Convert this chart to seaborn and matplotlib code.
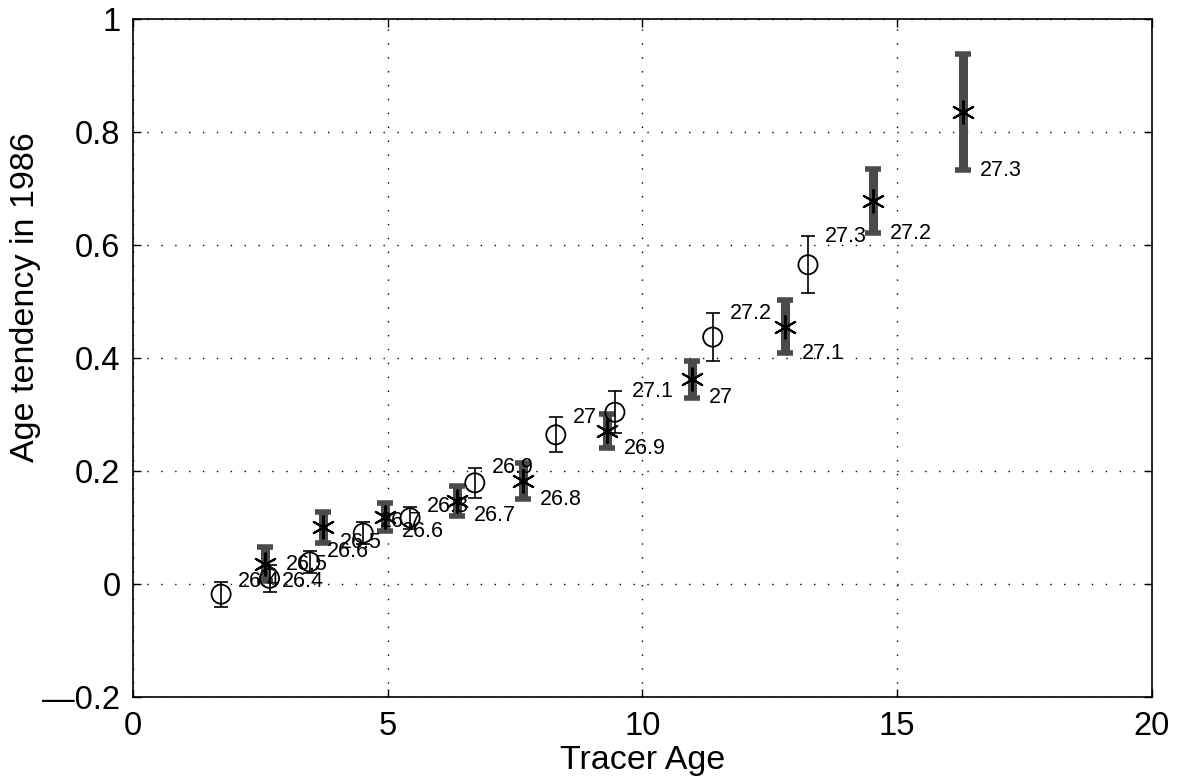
import numpy as np
import matplotlib
matplotlib.use("Agg")
import matplotlib.pyplot as plt
import seaborn as sns

# circles: thin black error bars, labels sit at the top of the bar
circ_age = [1.73, 2.68, 3.47, 4.52, 5.44, 6.71, 8.30, 9.46, 11.38, 13.25]
circ_tend = [-0.018, 0.010, 0.039, 0.090, 0.117, 0.179, 0.264, 0.304, 0.437, 0.565]
circ_err = [0.022, 0.024, 0.019, 0.020, 0.020, 0.027, 0.031, 0.037, 0.042, 0.050]
circ_lab = ["26.4", "26.5", "26.6", "26.7", "26.8", "26.9", "27", "27.1", "27.2", "27.3"]

# asterisks: thick grey error bars, labels sit at the bottom of the bar
star_age = [2.59, 3.73, 4.95, 6.36, 7.65, 9.30, 10.97, 12.80, 14.53, 16.30]
star_tend = [0.035, 0.100, 0.118, 0.147, 0.182, 0.270, 0.362, 0.455, 0.678, 0.835]
star_err = [0.030, 0.027, 0.025, 0.026, 0.032, 0.030, 0.032, 0.047, 0.057, 0.103]
star_lab = ["26.4", "26.5", "26.6", "26.7", "26.8", "26.9", "27", "27.1", "27.2", "27.3"]

xticks = [0, 5, 10, 15, 20]
yticks = [-0.2, 0, 0.2, 0.4, 0.6, 0.8, 1.0]
yticklabels = ["\u20140.2", "0", "0.2", "0.4", "0.6", "0.8", "1"]

sns.set_theme(style="white")
plt.rcParams["font.family"] = ["Liberation Sans", "DejaVu Sans"]
plt.rcParams["text.color"] = "black"

fig = plt.figure(figsize=(11.82, 7.84), dpi=100)
ax = fig.add_axes([0.1125, 0.111, 0.862, 0.8648])

# thick grey bars first, then the thin black ones
ax.errorbar(star_age, star_tend, yerr=star_err, fmt="none", ecolor="#4a4a4a",
            elinewidth=6.5, capsize=5.5, capthick=4, zorder=2)
ax.errorbar(circ_age, circ_tend, yerr=circ_err, fmt="none", ecolor="black",
            elinewidth=1.2, capsize=5, capthick=1.2, zorder=3)

sns.scatterplot(x=star_age, y=star_tend, marker=(6, 2, 0), s=260, color="black",
                linewidth=1.5, ax=ax, zorder=4)
sns.scatterplot(x=circ_age, y=circ_tend, marker="o", s=190, facecolors="none",
                edgecolors="black", linewidth=1.3, ax=ax, zorder=4)

for x, y, e, t in zip(circ_age, circ_tend, circ_err, circ_lab):
    ax.text(x + 0.33, y + e, t, fontsize=15.5, color="black", va="center", ha="left", zorder=5)
for x, y, e, t in zip(star_age, star_tend, star_err, star_lab):
    ax.text(x + 0.33, y - e, t, fontsize=15.5, color="black", va="center", ha="left", zorder=5)

ax.set_xlim(0, 20)
ax.set_ylim(-0.2, 1.0)
ax.set_xticks(xticks)
ax.set_xticklabels([str(v) for v in xticks])
ax.set_yticks(yticks)
ax.set_yticklabels(yticklabels)
ax.tick_params(direction="in", length=6, width=1, labelsize=23.5, colors="black",
               top=True, right=True, bottom=True, left=True)
ax.tick_params(axis="x", pad=10)
ax.tick_params(axis="y", pad=9)
ax.grid(True, color="black", linestyle=(0, (1, 9)), linewidth=1.0)
for sp in ax.spines.values():
    sp.set_color("black")
    sp.set_linewidth(1.2)

ax.set_xlabel("Tracer Age", fontsize=24.5, color="black")
ax.set_ylabel("Age tendency in 1986", fontsize=24.5, color="black")
ax.xaxis.set_label_coords(0.5, -0.071)
ax.yaxis.set_label_coords(-0.09, 0.59)

fig.savefig("out.png", dpi=100, facecolor="white")
